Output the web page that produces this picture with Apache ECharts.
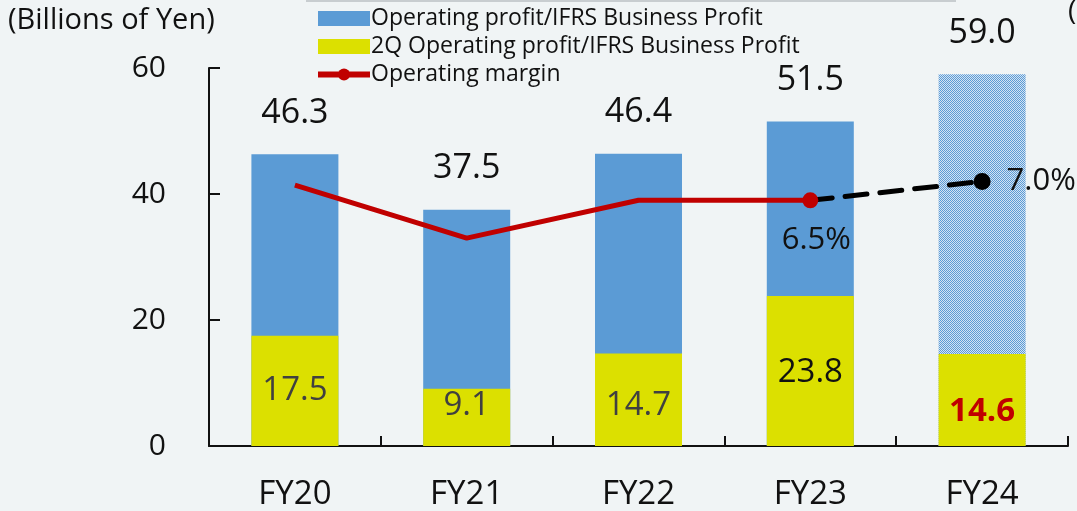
<!DOCTYPE html>
<html>
<head>
<meta charset="utf-8">
<script src="https://cdn.jsdelivr.net/npm/echarts@6/dist/echarts.min.js"></script>
<style>
  html, body { margin: 0; padding: 0; background: #f0f4f5; }
  #chart { width: 1077px; height: 511px; }
</style>
</head>
<body>
<div id="chart"></div>
<script>
// 数据
const years = ['FY20', 'FY21', 'FY22', 'FY23', 'FY24']
const fullYear = [46.3, 37.5, 46.4, 51.5, 59.0]       // Operating profit / IFRS Business Profit
const secondQ = [17.5, 9.1, 14.7, 23.8, 14.6]         // 2Q
const margin = [6.9, 5.5, 6.5, 6.5, null]             // 実績
const marginForecast = [null, null, null, 6.5, 7.0]   // 見通し
const yTicks = [0, 20, 40, 60]

const FONT = '"Open Sans", "Noto Sans", sans-serif'
const BLUE = '#5b9bd5'
const YELLOW = '#dce000'
const RED = '#c00000'

// FY24 の網掛け用パターン
function dotPattern() {
  const c = document.createElement('canvas')
  c.width = 2; c.height = 2
  const ctx = c.getContext('2d')
  ctx.fillStyle = '#d4e3f3'
  ctx.fillRect(0, 0, 2, 2)
  ctx.fillStyle = BLUE
  ctx.fillRect(0, 0, 1, 1)
  ctx.fillRect(1, 1, 1, 1)
  return { image: c, repeat: 'repeat' }
}

const chart = echarts.init(document.getElementById('chart'))

chart.setOption({
  backgroundColor: '#f0f4f5',
  textStyle: { fontFamily: FONT },
  animation: false,
  grid: { left: 209, right: 9, top: 68, bottom: 64 },
  legend: {
    orient: 'vertical',
    left: 310,
    top: 2,
    itemWidth: 52,
    itemHeight: 15,
    itemGap: 5,
    textStyle: { fontSize: 23, color: '#111', fontFamily: FONT, padding: [0, 0, 0, -4] },
    data: [
      { name: 'Operating profit/IFRS Business Profit', icon: 'rect' },
      { name: '2Q Operating profit/IFRS Business Profit', icon: 'rect' },
      { name: 'Operating margin', lineStyle: { width: 6 } },
    ],
  },
  graphic: [
    { type: 'rect', shape: { x: 306, y: 0, width: 650, height: 2 }, style: { fill: '#c8cdd0' } },
    { type: 'text', left: 8, top: 6, style: { text: '(Billions of Yen)', fontSize: 29, fontFamily: FONT, fill: '#111' } },
    { type: 'text', left: 1068, top: -2, style: { text: '(%)', fontSize: 28, fontFamily: FONT, fill: '#111' } },
  ],
  xAxis: {
    type: 'category',
    data: years,
    axisLine: { lineStyle: { color: '#111', width: 2 } },
    axisTick: { show: true, inside: true, length: 10, lineStyle: { color: '#111', width: 2 } },
    axisLabel: { fontSize: 33, color: '#111', margin: 32, fontFamily: FONT },
  },
  yAxis: [
    {
      type: 'value',
      min: yTicks[0],
      max: yTicks[yTicks.length - 1],
      interval: 20,
      axisLine: { show: true, lineStyle: { color: '#111', width: 2 } },
      axisTick: { show: true, inside: true, length: 11, lineStyle: { color: '#111', width: 2 } },
      axisLabel: { fontSize: 30, color: '#111', margin: 43, fontFamily: FONT },
      splitLine: { show: false },
    },
    { type: 'value', min: 0, max: 10, show: false },
  ],
  series: [
    {
      name: 'Operating profit/IFRS Business Profit',
      type: 'bar',
      barWidth: 87,
      barGap: '-100%',
      itemStyle: { color: BLUE },
      data: fullYear.map((v, i) => i === 4
        ? { value: v, itemStyle: { color: dotPattern() } }
        : v),
      label: {
        show: true, position: 'top', distance: 24,
        fontSize: 34, color: '#111', fontFamily: FONT,
        formatter: p => p.value.toFixed(1),
      },
      z: 1,
    },
    {
      name: '2Q Operating profit/IFRS Business Profit',
      type: 'bar',
      barWidth: 87,
      itemStyle: { color: YELLOW },
      data: secondQ.map((v, i) => {
        if (i === 1) return { value: v, label: { position: 'insideTop', distance: 0 } }
        if (i === 3) return { value: v, label: { color: '#111', offset: [0, 2] } }
        if (i === 4) return { value: v, label: { color: RED, fontWeight: 'bold', offset: [0, 12] } }
        if (i === 2) return { value: v, label: { offset: [0, 6] } }
        return v
      }),
      label: {
        show: true, position: 'inside',
        fontSize: 33, color: '#404040', fontFamily: FONT,
        formatter: p => p.value.toFixed(1),
      },
      z: 2,
    },
    {
      name: 'Operating margin',
      type: 'line',
      yAxisIndex: 1,
      symbol: 'circle',
      symbolSize: 16,
      lineStyle: { color: RED, width: 5 },
      itemStyle: { color: RED },
      data: margin.map((v, i) => i === 3
        ? { value: v, label: { show: true, position: 'bottom', distance: 16, offset: [6, 0],
            fontSize: 31, color: '#111', fontFamily: FONT, formatter: '{c}%' } }
        : { value: v, symbol: 'none' }),
      z: 4,
    },
    {
      name: 'Operating margin forecast',
      type: 'line',
      yAxisIndex: 1,
      symbol: 'circle',
      symbolSize: 17,
      lineStyle: { color: '#000', width: 5, type: [22, 13], cap: 'round' },
      itemStyle: { color: '#000' },
      data: marginForecast.map((v, i) => i === 4
        ? { value: v, label: { show: true, position: 'right', distance: 16,
            fontSize: 31, color: '#111', fontFamily: FONT, formatter: p => p.value.toFixed(1) + '%' } }
        : { value: v, symbol: 'none' }),
      z: 3,
    },
  ],
})

window.addEventListener('resize', () => chart.resize())
</script>
</body>
</html>
